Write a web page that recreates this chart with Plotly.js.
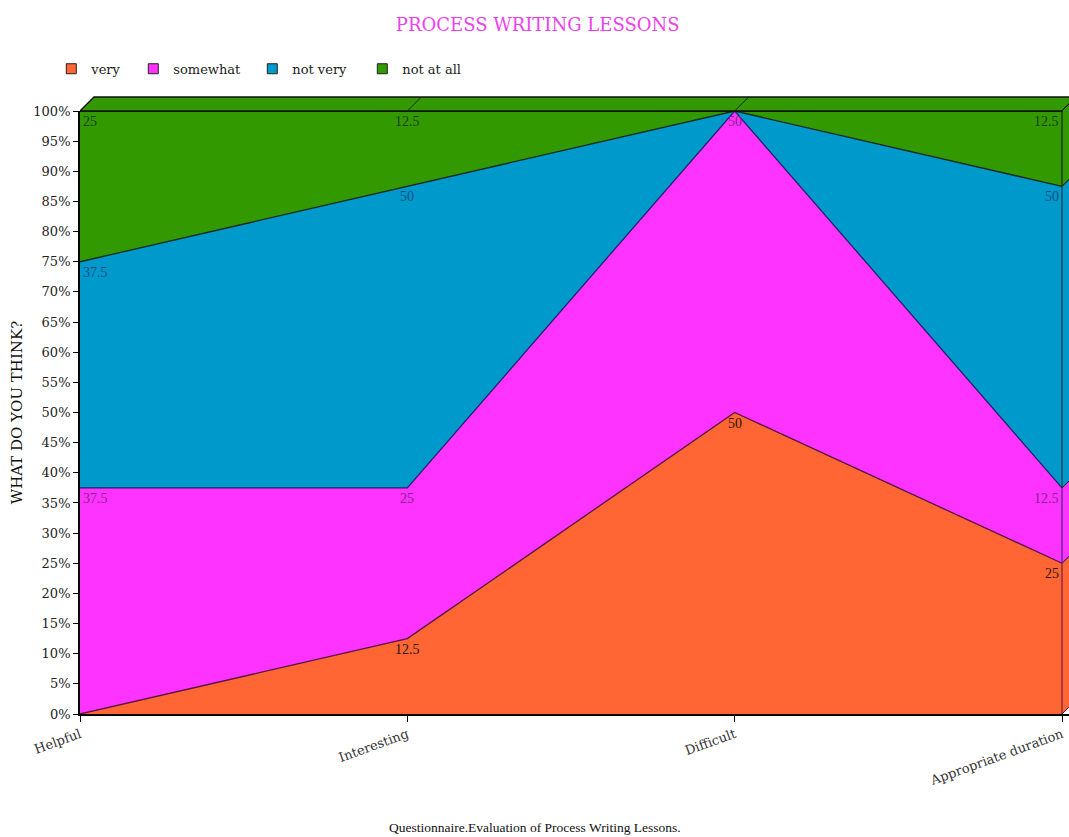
<!DOCTYPE html>
<html>
<head>
<meta charset="utf-8">
<script src="https://cdn.plot.ly/plotly-3.0.1.min.js"></script>
<style>
  html, body { margin: 0; padding: 0; background: #ffffff; }
  #chart { width: 1069px; height: 837px; }
</style>
</head>
<body>
<div id="chart"></div>
<script>
// Questionnaire answers (percent of respondents), stacked to 100%
const categories = ['Helpful', 'Interesting', 'Difficult', 'Appropriate duration'];
const seriesNames = ['very', 'somewhat', 'not very', 'not at all'];
const veryVals = [0, 12.5, 50, 25];
const somewhatVals = [37.5, 25, 50, 12.5];
const notVeryVals = [37.5, 50, 0, 50];
const notAtAllVals = [25, 12.5, 0, 12.5];
const yTickVals = [0, 5, 10, 15, 20, 25, 30, 35, 40, 45, 50, 55, 60, 65, 70, 75, 80, 85, 90, 95, 100];
const yTickText = ['0%', '5%', '10%', '15%', '20%', '25%', '30%', '35%', '40%', '45%', '50%',
                   '55%', '60%', '65%', '70%', '75%', '80%', '85%', '90%', '95%', '100%'];

const seriesVals = [veryVals, somewhatVals, notVeryVals, notAtAllVals];

// Styling
const fillColors = ['#FF6633', '#FF33FF', '#0099CC', '#339900'];
const edgeColors = ['#5a1040', '#22226a', '#0a2a2a', '#111111'];
const labelColors = ['#2a1408', '#8a1f8f', '#0f4f80', '#1a3f08'];
const SERIF = '"DejaVu Serif", "Liberation Serif", serif';
const TIMES = '"Liberation Serif", "Times New Roman", serif';

// Plot-area geometry (pixels) used to place the legend entries
const PLOT_LEFT = 80;
const PLOT_WIDTH = 989;
const legendSwatchPx = [76, 158, 277, 387];

// Depth of the pseudo-3D extrusion: category units horizontally, paper units vertically
const DEPTH_X = 0.0428;
const DEPTH_Y = 14 / 603;
const lastIdx = categories.length - 1;

// Running totals for each stacked layer
const cumulative = [];
seriesVals.forEach((vals, s) => {
  cumulative.push(vals.map((v, i) => v + (s > 0 ? cumulative[s - 1][i] : 0)));
});

const legendIds = ['legend', 'legend2', 'legend3', 'legend4'];

const traces = [];
seriesVals.forEach((vals, s) => {
  traces.push({
    type: 'scatter',
    x: categories,
    y: vals,
    name: seriesNames[s],
    stackgroup: 'pct',
    mode: 'lines',
    line: { color: edgeColors[s], width: 1.3 },
    fillcolor: fillColors[s],
    legendgroup: seriesNames[s],
    showlegend: false,
    hoverinfo: 'x+y+name'
  });
});
// Square swatches for the legend, one legend box per entry
seriesNames.forEach((name, s) => {
  traces.push({
    type: 'scatter',
    x: [null],
    y: [null],
    name: name,
    mode: 'markers',
    marker: { symbol: 'square', size: 10, color: fillColors[s], line: { color: '#222', width: 1 } },
    legendgroup: name,
    legend: legendIds[s],
    showlegend: true,
    hoverinfo: 'skip'
  });
});

// Value labels under the top of each layer
const annotations = [];
seriesVals.forEach((vals, s) => {
  vals.forEach((v, i) => {
    if (v <= 0) return;
    annotations.push({
      x: categories[i],
      y: cumulative[s][i],
      xref: 'x', yref: 'y',
      text: String(v),
      showarrow: false,
      xanchor: i === 0 ? 'left' : (i === lastIdx ? 'right' : 'center'),
      yanchor: 'top',
      xshift: i === 0 ? 1 : (i === lastIdx ? -1 : 0),
      yshift: -1,
      font: { family: TIMES, size: 14, color: labelColors[s] }
    });
  });
});
annotations.push({
  xref: 'paper', yref: 'paper',
  x: 0.46, y: -0.189,
  xanchor: 'center', yanchor: 'middle',
  text: 'Questionnaire.Evaluation of Process Writing Lessons.',
  showarrow: false,
  font: { family: TIMES, size: 13.5, color: '#111' }
});

// Pseudo-3D faces: top lid and the right-hand side
const shapes = [];
shapes.push({
  type: 'path', xref: 'x', yref: 'paper', layer: 'above',
  path: `M0,1 L${DEPTH_X},${1 + DEPTH_Y} L${lastIdx + DEPTH_X},${1 + DEPTH_Y} L${lastIdx},1 Z`,
  fillcolor: fillColors[3],
  line: { color: '#111', width: 1.3 }
});
for (let i = 1; i <= lastIdx; i++) {
  shapes.push({
    type: 'line', xref: 'x', yref: 'paper', layer: 'above',
    x0: i, y0: 1, x1: i + DEPTH_X, y1: 1 + DEPTH_Y,
    line: { color: '#222', width: 1 }
  });
}
seriesVals.forEach((vals, s) => {
  const hi = cumulative[s][lastIdx] / 100;
  const lo = (s > 0 ? cumulative[s - 1][lastIdx] : 0) / 100;
  if (hi - lo <= 0) return;
  shapes.push({
    type: 'path', xref: 'x', yref: 'paper', layer: 'above',
    path: `M${lastIdx},${lo} L${lastIdx + DEPTH_X},${lo + DEPTH_Y} L${lastIdx + DEPTH_X},${hi + DEPTH_Y} L${lastIdx},${hi} Z`,
    fillcolor: fillColors[s],
    line: { color: edgeColors[s], width: 1 }
  });
});

const layout = {
  width: 1069,
  height: 837,
  paper_bgcolor: '#ffffff',
  plot_bgcolor: '#ffffff',
  margin: { l: PLOT_LEFT, r: 0, t: 111, b: 123 },
  font: { family: SERIF, size: 13, color: '#222' },
  title: {
    text: 'PROCESS WRITING LESSONS',
    x: 0.503, xref: 'container', xanchor: 'center',
    y: 1 - 25 / 837, yref: 'container', yanchor: 'middle',
    font: { family: SERIF, size: 18, color: '#EE3FEE' }
  },
  showlegend: true,
  xaxis: {
    type: 'category',
    range: [0, lastIdx + 7 / 327.3],
    showgrid: false,
    zeroline: false,
    showline: true,
    linecolor: '#000',
    linewidth: 2,
    ticks: 'outside',
    ticklen: 6,
    tickcolor: '#000',
    tickangle: -20,
    tickfont: { family: SERIF, size: 13, color: '#333' },
    fixedrange: true
  },
  yaxis: {
    range: [0, 100],
    tickvals: yTickVals,
    ticktext: yTickText,
    showgrid: false,
    zeroline: false,
    showline: true,
    linecolor: '#000',
    linewidth: 1.8,
    ticks: 'outside',
    ticklen: 5,
    tickcolor: '#000',
    tickfont: { family: SERIF, size: 13, color: '#222' },
    title: {
      text: 'WHAT DO YOU THINK?',
      font: { family: SERIF, size: 15, color: '#111' },
      standoff: 7
    },
    automargin: false,
    fixedrange: true
  },
  annotations: annotations,
  shapes: shapes,
  hovermode: 'closest'
};

legendIds.forEach((id, s) => {
  layout[id] = {
    orientation: 'h',
    x: (legendSwatchPx[s] - 24.7 - PLOT_LEFT) / PLOT_WIDTH, xanchor: 'left',
    y: 1.07, yanchor: 'middle',
    font: { family: SERIF, size: 13, color: '#222' },
    bgcolor: 'rgba(0,0,0,0)'
  };
});

Plotly.newPlot('chart', traces, layout, { displayModeBar: false, responsive: false });
</script>
</body>
</html>
